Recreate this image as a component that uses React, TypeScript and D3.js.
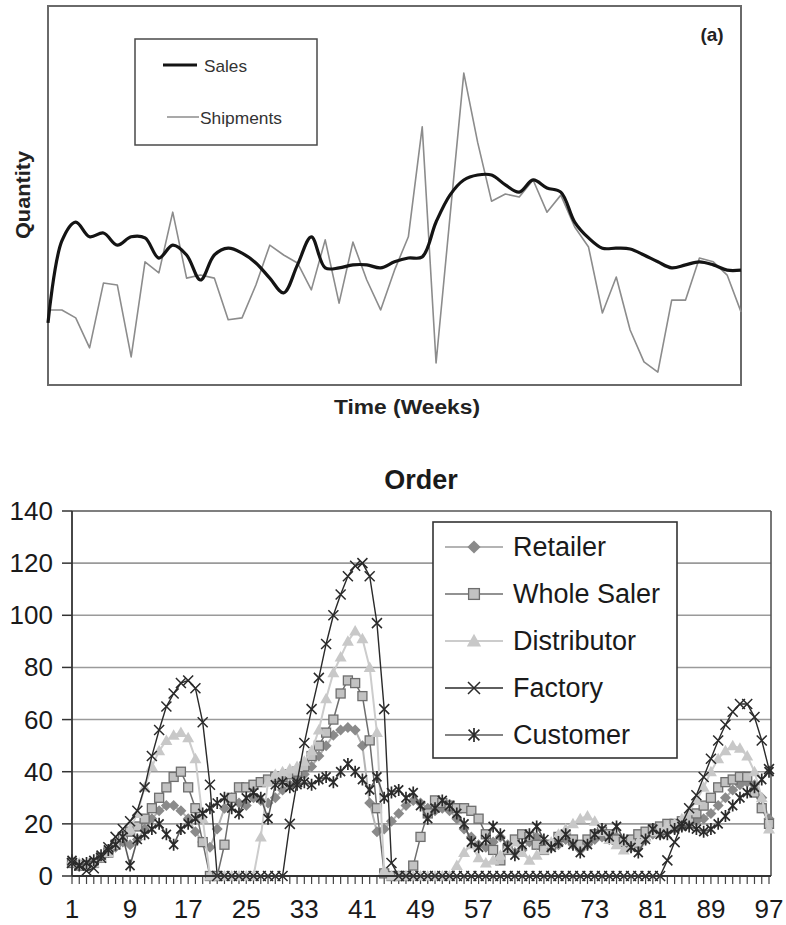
import React from "react";
import * as d3 from "d3";

// ---------- Top chart (a): Sales vs Shipments (weeks 1..51, arbitrary quantity 0..100) ----------
const weeks = d3.range(1, 52);
const sales = [
  16.4, 38.0, 43.0, 39.1, 40.1, 36.9, 39.1, 38.8, 33.5, 36.9,
  34.3, 27.7, 34.3, 36.1, 34.8, 32.2, 28.2, 24.3, 31.7, 39.1,
  30.9, 30.9, 31.7, 31.7, 30.9, 32.5, 33.5, 33.8, 43.0, 50.1,
  54.1, 55.4, 55.4, 52.8, 50.9, 54.1, 52.0, 50.9, 43.0, 38.8,
  36.1, 36.1, 35.9, 34.3, 32.5, 30.9, 31.7, 32.5, 31.7, 30.3,
  30.3,
];
const shipments = [
  19.8, 19.8, 17.7, 9.8, 26.9, 26.4, 7.4, 32.5, 29.6, 45.6,
  28.2, 29.0, 28.2, 17.2, 17.7, 26.4, 36.9, 34.3, 32.2, 25.1,
  38.3, 21.6, 37.7, 27.7, 19.8, 30.3, 39.1, 68.1, 5.8, 44.3,
  82.3, 64.0, 48.5, 50.4, 49.6, 54.1, 45.6, 50.1, 41.7, 36.4,
  19.0, 28.5, 14.5, 6.1, 3.4, 22.4, 22.4, 33.5, 32.5, 29.0,
  19.3,
];

// ---------- Bottom chart: Order (weeks 1..97) ----------
const orderWeeks = d3.range(1, 98);
const retailer = [
  5, 4, 4, 5, 7, 9, 11, 13, 12, 14,
  18, 22, 25, 27, 27, 25, 22, 17, 13, 11,
  18, 26, 30, 28, 27, 30, 29, 28, 30, 33,
  35, 37, 39, 42, 46, 50, 54, 56, 57, 56,
  50, 28, 17, 18, 21, 24, 27, 29, 28, 26,
  25, 26, 25, 22, 18, 15, 12, 11, 13, 15,
  12, 9, 10, 13, 15, 13, 11, 12, 14, 12,
  10, 12, 14, 15, 14, 15, 13, 11, 12, 14,
  16, 16, 17, 18, 19, 20, 21, 22, 24, 27,
  30, 33, 35, 36, 35, 30, 22,
];
const wholeSaler = [
  5, 4, 4, 5, 7, 9, 12, 15, 17, 19,
  22, 26, 30, 34, 38, 40, 34, 26, 13, 0,
  0, 12, 30, 34, 34, 35, 36, 37, 38, 38,
  39, 40, 42, 46, 50, 55, 60, 70, 75, 74,
  69, 52, 26, 1, 0, 0, 0, 4, 15, 24,
  29, 28, 27, 26, 26, 25, 22, 16, 10, 6,
  10, 14, 16, 15, 12, 10, 12, 15, 16, 14,
  12, 14, 16, 17, 16, 14, 13, 14, 16, 17,
  18, 19, 20, 20, 21, 22, 24, 27, 30, 34,
  36, 37, 38, 38, 32, 26, 20,
];
const distributor = [
  6, 5, 4, 5, 7, 9, 12, 15, 18, 24,
  34, 42, 48, 52, 54, 55, 53, 45, 22, 0,
  0, 0, 0, 0, 0, 0, 15, 36, 39, 40,
  41, 42, 44, 48, 56, 68, 78, 84, 90, 94,
  91, 80, 55, 2, 0, 0, 0, 0, 0, 0,
  0, 0, 0, 4, 9, 12, 7, 5, 6, 8,
  11, 13, 9, 6, 8, 10, 13, 16, 18, 20,
  22, 23, 21, 17, 14, 12, 10, 11, 13, 15,
  17, 18, 19, 20, 22, 25, 29, 34, 40, 45,
  48, 50, 49, 46, 40, 30, 18,
];
const factory = [
  5, 4, 2, 3, 7, 11, 15, 18, 21, 25,
  34, 46, 56, 65, 70, 74, 75, 72, 59, 35,
  0, 0, 0, 0, 0, 0, 0, 0, 0, 0,
  20, 36, 51, 64, 76, 89, 100, 108, 115, 119,
  120, 115, 97, 64, 5, 0, 0, 0, 0, 0,
  0, 0, 0, 0, 0, 0, 0, 0, 0, 0,
  0, 0, 0, 0, 0, 0, 0, 0, 0, 0,
  0, 0, 0, 0, 0, 0, 0, 0, 0, 0,
  0, 0, 6, 13, 20, 26, 31, 38, 45, 52,
  58, 63, 66, 66, 61, 52, 41,
];
const customer = [
  6, 4, 5, 6, 8, 10, 12, 15, 4, 14,
  16, 18, 20, 16, 12, 18, 20, 22, 24, 26,
  28, 30, 26, 24, 30, 32, 30, 22, 35, 36,
  34, 35, 36, 35, 37, 38, 36, 40, 43, 40,
  37, 33, 38, 30, 32, 33, 30, 32, 27, 22,
  26, 29, 27, 24, 20, 13, 11, 14, 19, 16,
  11, 8, 12, 16, 19, 14, 11, 13, 16, 12,
  9, 12, 16, 18, 15, 19, 14, 11, 9, 14,
  18, 16, 16, 18, 19, 19, 18, 17, 18, 20,
  23, 27, 30, 32, 34, 37, 40,
];
const seriesNames = ["Retailer", "Whole Saler", "Distributor", "Factory", "Customer"];
const yTickValues = [0, 20, 40, 60, 80, 100, 120, 140];
const xTickLabels = [1, 9, 17, 25, 33, 41, 49, 57, 65, 73, 81, 89, 97];

const FONT = "'Liberation Sans', Arial, Helvetica, sans-serif";

type MarkerKind = "diamond" | "square" | "triangle" | "x" | "star";

function Marker({ kind, cx, cy, st, k = 1 }: { kind: MarkerKind; cx: number; cy: number; st: any; k?: number }) {
  if (kind === "diamond") {
    const s = 5.5 * k;
    return <path d={`M${cx},${cy - s}L${cx + s},${cy}L${cx},${cy + s}L${cx - s},${cy}Z`} fill={st.mfill} stroke="none" />;
  }
  if (kind === "square") {
    const s = 4.5 * k;
    return <rect x={cx - s} y={cy - s} width={2 * s} height={2 * s} fill={st.mfill} stroke={st.mstroke} strokeWidth={1.3} />;
  }
  if (kind === "triangle") {
    const s = 6 * k;
    return <path d={`M${cx},${cy - s}L${cx + s},${cy + s * 0.75}L${cx - s},${cy + s * 0.75}Z`} fill={st.mfill} stroke="none" />;
  }
  if (kind === "x") {
    const s = 5 * k;
    return <path d={`M${cx - s},${cy - s}L${cx + s},${cy + s}M${cx - s},${cy + s}L${cx + s},${cy - s}`} stroke={st.mstroke} strokeWidth={1.5} fill="none" />;
  }
  const s = 4.5 * k;
  return (
    <path
      d={`M${cx - s},${cy - s}L${cx + s},${cy + s}M${cx - s},${cy + s}L${cx + s},${cy - s}M${cx},${cy - s - 1.5}L${cx},${cy + s + 1.5}`}
      stroke={st.mstroke}
      strokeWidth={1.7}
      fill="none"
    />
  );
}

const styles: Record<string, any> = {
  Retailer: { kind: "diamond", line: "#b4b4b4", lw: 2, mfill: "#8a8a8a", mstroke: "none" },
  "Whole Saler": { kind: "square", line: "#6e6e6e", lw: 1.5, mfill: "#c2c2c2", mstroke: "#6e6e6e" },
  Distributor: { kind: "triangle", line: "#cccccc", lw: 2, mfill: "#c8c8c8", mstroke: "none" },
  Factory: { kind: "x", line: "#2a2a2a", lw: 1.4, mfill: "none", mstroke: "#2a2a2a" },
  Customer: { kind: "star", line: "#5a5a5a", lw: 1.6, mfill: "none", mstroke: "#2a2a2a" },
};

export default function App() {
  // top chart scales
  const xT = d3.scaleLinear().domain([1, 51]).range([48, 741]);
  const yT = d3.scaleLinear().domain([0, 100]).range([385, 6]);
  const salesLine = d3
    .line<number>()
    .x((_, i) => xT(weeks[i]))
    .y((d) => yT(d))
    .curve(d3.curveCatmullRom.alpha(0.5));
  const shipLine = d3
    .line<number>()
    .x((_, i) => xT(weeks[i]))
    .y((d) => yT(d));

  // bottom chart scales
  const xB = d3.scaleLinear().domain([1, 97]).range([72, 769]);
  const yB = d3.scaleLinear().domain([0, 140]).range([876, 511]);
  const oLine = d3
    .line<number>()
    .x((_, i) => xB(orderWeeks[i]))
    .y((d) => yB(d));

  const seriesData: Record<string, number[]> = {
    Retailer: retailer,
    "Whole Saler": wholeSaler,
    Distributor: distributor,
    Factory: factory,
    Customer: customer,
  };

  const plotRight = 771;
  const legend = { x: 433, y: 522, w: 244, h: 236 };
  const legendRowY = (i: number) => 547 + i * 47;

  return (
    <div style={{ position: "absolute", left: 0, top: 0 }}>
      <svg width={786} height={925} style={{ display: "block", background: "#fff" }} fontFamily={FONT}>
        {/* ================= TOP CHART ================= */}
        <rect x={48} y={6} width={693} height={379} fill="#fff" stroke="#6a6a6a" strokeWidth={2} />
        <path d={shipLine(shipments) || ""} fill="none" stroke="#8c8c8c" strokeWidth={1.6} strokeLinejoin="round" />
        <path d={salesLine(sales) || ""} fill="none" stroke="#141414" strokeWidth={3.2} strokeLinejoin="round" />
        {/* legend */}
        <rect x={135} y={39} width={182} height={106} fill="#fff" stroke="#4a4a4a" strokeWidth={1.5} />
        <line x1={163} x2={197} y1={65} y2={65} stroke="#141414" strokeWidth={3} />
        <text x={204} y={66} dominantBaseline="central" fontSize={17} fill="#333" textLength={43} lengthAdjust="spacingAndGlyphs">
          Sales
        </text>
        <line x1={167} x2={199} y1={117} y2={117} stroke="#8c8c8c" strokeWidth={1.5} />
        <text x={200} y={118} dominantBaseline="central" fontSize={17} fill="#333" textLength={82} lengthAdjust="spacingAndGlyphs">
          Shipments
        </text>
        <text x={712} y={34} textAnchor="middle" dominantBaseline="central" fontSize={19} fontWeight="bold" fill="#222">
          (a)
        </text>
        <text
          transform={`translate(23,195) rotate(-90)`}
          textAnchor="middle"
          dominantBaseline="central"
          fontSize={20}
          fontWeight="bold"
          fill="#222"
          textLength={88}
          lengthAdjust="spacingAndGlyphs"
        >
          Quantity
        </text>
        <text
          x={334}
          y={407}
          dominantBaseline="central"
          fontSize={20}
          fontWeight="bold"
          fill="#222"
          textLength={146}
          lengthAdjust="spacingAndGlyphs"
        >
          Time (Weeks)
        </text>

        {/* ================= BOTTOM CHART ================= */}
        <text x={421} y={480} textAnchor="middle" dominantBaseline="central" fontSize={27} fontWeight="bold" fill="#1a1a1a">
          Order
        </text>
        {/* gridlines */}
        {yTickValues
          .filter((v) => v > 0)
          .map((v) => (
            <line key={"g" + v} x1={72} x2={plotRight} y1={yB(v)} y2={yB(v)} stroke={v === 140 ? "#555" : "#9a9a9a"} strokeWidth={1.6} />
          ))}
        {/* plot right border */}
        <line x1={plotRight} x2={plotRight} y1={yB(140)} y2={yB(0)} stroke="#555" strokeWidth={1.6} />
        {/* y axis ticks & labels */}
        {yTickValues.map((v) => (
          <g key={"yt" + v}>
            <line x1={62} x2={72} y1={yB(v)} y2={yB(v)} stroke="#333" strokeWidth={1.5} />
            <text x={53} y={yB(v)} textAnchor="end" dominantBaseline="central" fontSize={26} fill="#1a1a1a">
              {v}
            </text>
          </g>
        ))}
        {/* x ticks */}
        {orderWeeks.map((w) => (
          <line key={"xt" + w} x1={xB(w)} x2={xB(w)} y1={yB(0)} y2={yB(0) + 8} stroke="#444" strokeWidth={1.2} />
        ))}
        {xTickLabels.map((w) => (
          <text key={"xl" + w} x={xB(w)} y={918} textAnchor="middle" fontSize={26} fill="#1a1a1a">
            {w}
          </text>
        ))}
        {/* series */}
        {seriesNames.map((name) => {
          const st = styles[name];
          const data = seriesData[name];
          return (
            <g key={name}>
              <path d={oLine(data) || ""} fill="none" stroke={st.line} strokeWidth={st.lw} strokeLinejoin="round" />
              {data.map((v, i) => (
                <Marker key={i} kind={st.kind} cx={xB(orderWeeks[i])} cy={yB(v)} st={st} />
              ))}
            </g>
          );
        })}
        {/* axes */}
        <line x1={72} x2={72} y1={yB(140)} y2={yB(0)} stroke="#333" strokeWidth={1.8} />
        <line x1={72} x2={plotRight} y1={yB(0)} y2={yB(0)} stroke="#333" strokeWidth={1.8} />
        {/* legend */}
        <rect x={legend.x} y={legend.y} width={legend.w} height={legend.h} fill="#fff" stroke="#333" strokeWidth={1.6} />
        {seriesNames.map((name, i) => {
          const st = styles[name];
          const cy = legendRowY(i);
          return (
            <g key={"lg" + name}>
              <line x1={445} x2={503} y1={cy} y2={cy} stroke={st.line} strokeWidth={st.lw} />
              <Marker kind={st.kind} cx={474} cy={cy} st={st} k={1.2} />
              <text x={513} y={cy} dominantBaseline="central" fontSize={27} fill="#1a1a1a">
                {name}
              </text>
            </g>
          );
        })}
      </svg>
    </div>
  );
}
